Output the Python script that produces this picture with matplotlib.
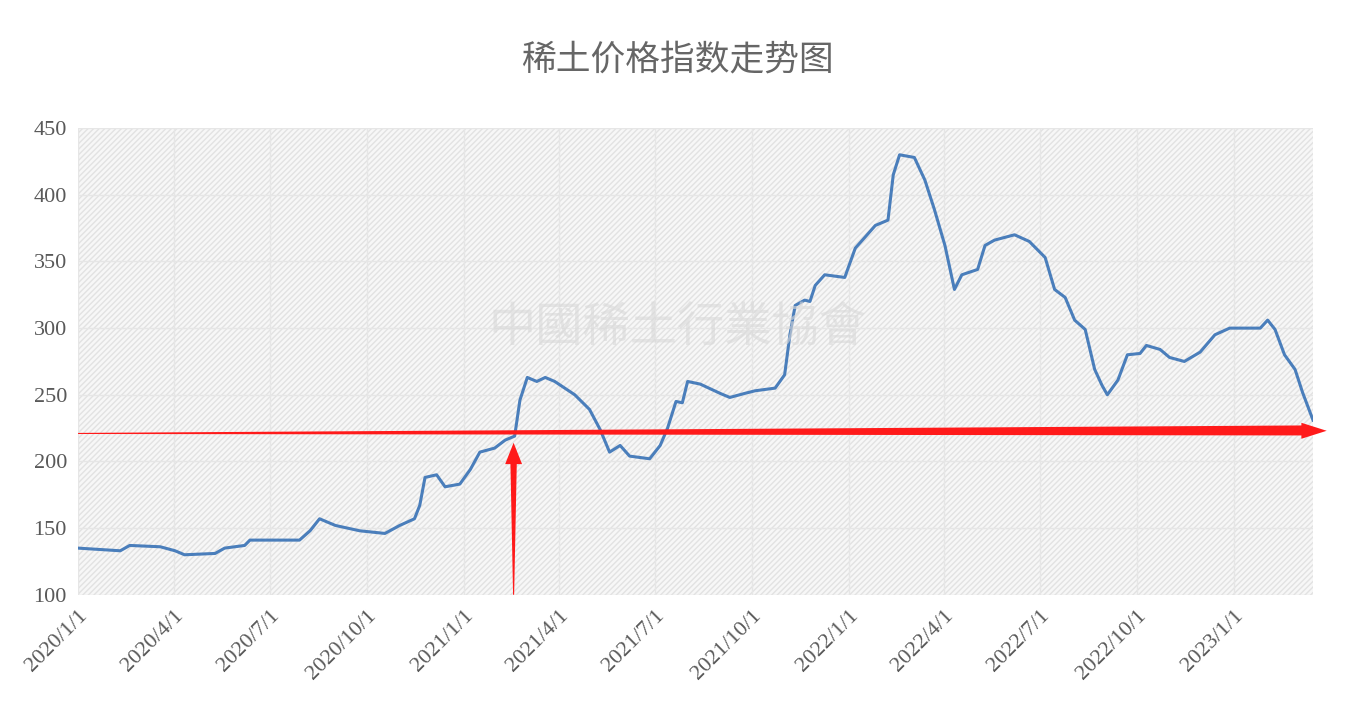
import numpy as np
import pandas as pd
import matplotlib
matplotlib.use('Agg')
import matplotlib.pyplot as plt
import matplotlib.dates as mdates
from matplotlib.patches import Polygon, Rectangle

# days since 2020-01-01 and index value
days = [0, 40, 49, 78, 92, 101, 130, 139, 158, 163, 177, 210, 220, 229, 244, 267, 291, 305,
        319, 324, 329, 340, 348, 362, 372, 381, 395, 405, 414, 419, 426, 435, 443, 452, 471,
        485, 495, 504, 514, 523, 542, 552, 559, 567, 573, 578, 590, 609, 618, 632, 642, 661,
        670, 675, 680, 689, 694, 699, 708, 727, 737, 746, 756, 768, 773, 779, 793, 803, 812,
        822, 831, 838, 853, 860, 869, 888, 902, 917, 926, 936, 945, 955, 964, 971, 976, 986,
        995, 1007, 1013, 1026, 1035, 1049, 1064, 1078, 1092, 1121, 1128, 1135, 1144, 1154,
        1161, 1171]
values = [135, 133, 137, 136, 133, 130, 131, 135, 137, 141, 141, 141, 148, 157, 152, 148, 146,
          152, 157, 167, 188, 190, 181, 183, 194, 207, 210, 216, 219, 246, 263, 260, 263, 260,
          250, 239, 224, 207, 212, 204, 202, 212, 225, 245, 244, 260, 258, 251, 248, 251, 253,
          255, 265, 295, 317, 321, 320, 332, 340, 338, 360, 368, 377, 381, 415, 430, 428, 411,
          389, 362, 329, 340, 344, 362, 366, 370, 365, 353, 329, 323, 306, 299, 269, 257, 250,
          261, 280, 281, 287, 284, 278, 275, 282, 295, 300, 300, 306, 299, 280, 269, 252, 231]
tick_labels = ['2020/1/1', '2020/4/1', '2020/7/1', '2020/10/1', '2021/1/1', '2021/4/1',
               '2021/7/1', '2021/10/1', '2022/1/1', '2022/4/1', '2022/7/1', '2022/10/1', '2023/1/1']

start = pd.Timestamp('2020-01-01')
dates = start + pd.to_timedelta(days, unit='D')
ticks = [pd.Timestamp(t.replace('/', '-')) for t in tick_labels]

plt.rcParams['font.family'] = ['Liberation Serif', 'Noto Sans CJK SC']
fig = plt.figure(figsize=(13.55, 7.28), dpi=100)
ax = fig.add_axes([0.0576, 0.183, 0.9114, 0.641])

x0, x1 = start, start + pd.Timedelta(days=1171)
ax.set_xlim(x0, x1)
ax.set_ylim(100, 450)
ax.add_patch(Rectangle((0, 0), 1, 1, transform=ax.transAxes, facecolor='#f7f7f7',
                       edgecolor='#e2e2e2', hatch='//////', lw=0, zorder=0))
ax.set_xticks(ticks)
ax.set_xticklabels(tick_labels, rotation=45, ha='right', rotation_mode='anchor')
ax.set_yticks(range(100, 451, 50))
ax.grid(True, color='#e6e6e6', lw=1)
ax.set_axisbelow(True)
for s in ax.spines.values():
    s.set_visible(False)
ax.tick_params(length=0, labelsize=16, colors='#595959', pad=8)

ax.plot(dates, values, color='#4a7ebb', lw=2.2, zorder=3)

fig.text(0.5, 0.918, '稀土价格指数走势图', ha='center', va='center', fontsize=25,
         color='#666666', family=['Noto Sans CJK SC'])
fig.text(0.5, 0.55, '中國稀土行業協會', ha='center', va='center', fontsize=34,
         color='#d8d8d8', alpha=0.6, family=['Noto Sans CJK SC'], zorder=1)

# red arrows
d = lambda n: mdates.date2num(start + pd.Timedelta(days=n))
h = [(d(0), 220.6), (d(1160), 219.5), (d(1160), 217), (d(1184), 223), (d(1160), 229),
     (d(1160), 227), (d(0), 221.4)]
ax.add_patch(Polygon(h, closed=True, color='#ff1a1a', clip_on=False, zorder=4, lw=0))
v = [(d(412.5), 100), (d(410), 198), (d(405), 198), (d(413), 214), (d(421), 198),
     (d(416), 198), (d(413.5), 100)]
ax.add_patch(Polygon(v, closed=True, color='#ff1a1a', clip_on=False, zorder=4, lw=0))

fig.savefig('out.png', dpi=100)
